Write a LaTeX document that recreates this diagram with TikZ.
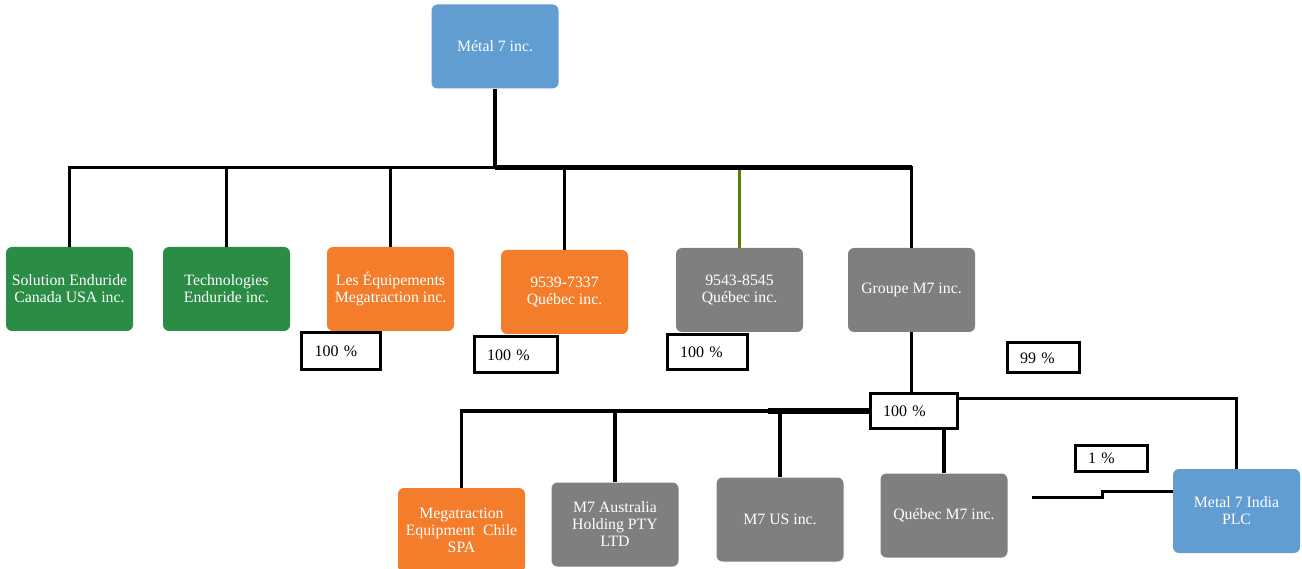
\documentclass[tikz,border=0pt]{standalone}
\usepackage{fontspec}
\setmainfont{Liberation Serif}
\usetikzlibrary{positioning,calc}
\definecolor{mblue}{HTML}{619DD1}
\definecolor{mgreen}{HTML}{2A8C45}
\definecolor{morange}{HTML}{F47D2C}
\definecolor{mgray}{HTML}{7F7F7F}
\definecolor{molive}{HTML}{5A7F00}

\begin{document}
\begin{tikzpicture}[x=1pt, y=-1pt,
    firm/.style={rectangle, rounded corners=6pt, minimum width=127pt, minimum height=84pt,
        text=white, align=center, inner sep=2pt, font=\fontsize{15.8}{17}\selectfont},
    share/.style={draw, line width=3pt, fill=white, inner xsep=13pt, inner ysep=0pt,
        text width=#1, align=left, font=\fontsize{16}{16}\selectfont},
    link/.style={line width=3.5pt, black}]
    \useasboundingbox (0,0) rectangle (1302,569);

    % Parent company
    \node[firm, fill=mblue] (metal) at (495,46.5) {Métal 7 inc.};

    % First tier
    \node[firm, fill=mgreen] (enduUSA) at (69.5,289) {Solution Enduride\\Canada USA inc.};
    \node[firm, fill=mgreen] (enduTech) at (226.5,289) {Technologies\\Enduride inc.};
    \node[firm, fill=morange] (megaQc) at (390.5,289) {Les Équipements\\Megatraction inc.};
    \node[firm, fill=morange] (qc9539) at (564.5,292) {9539-7337\\Québec inc.};
    \node[firm, fill=mgray] (qc9543) at (739.5,290) {9543-8545\\Québec inc.};
    \node[firm, fill=mgray] (groupe) at (911.5,290) {Groupe M7 inc.};

    % Second tier
    \node[firm, fill=morange] (megaChile) at (461.5,530) {Megatraction\\Equipment\ \ Chile\\SPA};
    \node[firm, fill=mgray] (m7aus) at (615,524.5) {M7 Australia\\Holding PTY\\LTD};
    \node[firm, fill=mgray] (m7us) at (780,519.5) {M7 US inc.};
    \node[firm, fill=mgray] (qcM7) at (944,515.5) {Québec M7 inc.};
    \node[firm, fill=mblue] (india) at (1236.5,511) {Metal 7 India\\PLC};

    % Ownership boxes
    \node[share=53pt, minimum height=37pt] (pMegaQc) at (341,351.5) {100 \%};
    \node[share=57pt, minimum height=36pt] (pQc9539) at (515.5,355) {100 \%};
    \node[share=54pt, minimum height=35pt] (pQc9543) at (707,352.5) {100 \%};
    \node[share=46pt, minimum height=30pt] (pGroupe) at (1043,358) {99 \%};
    \node[share=61pt, minimum height=34pt] (pM7) at (913.5,411) {100 \%};
    \node[share=46pt, minimum height=26pt] (pIndia) at (1111,458) {1 \%};

    % Top bus
    \draw[link] (metal.south) -- ++(0,79) coordinate (hub);
    \draw[line width=3pt, molive] (qc9543.north) -- (qc9543.north |- hub);
    \draw[link] (enduUSA.north) |- (groupe.north |- hub) -- (groupe.north);
    \draw[line width=5pt] (hub) -- (groupe.north |- hub);
    \foreach \n in {enduTech, megaQc, qc9539}
        \draw[link] (\n.north) -- (\n.north |- hub);

    % Groupe M7 bus
    \draw[link] (groupe.south) -- (groupe.south |- pM7.north);
    \draw[link] (pM7.west) -| (megaChile.north);
    \draw[line width=6.5pt] ([xshift=-12pt]m7us.north |- pM7.west) -- (pM7.west);
    \foreach \n in {m7aus, m7us}
        \draw[link] (\n.north) -- (\n.north |- pM7.west);
    \draw[link] (qcM7.north) -- (qcM7.north |- pM7.south);
    \draw[link, line width=3pt] ([yshift=12pt]pM7.east) -| (india.north);

    % Minority stake
    \coordinate (stub) at (1032,497);
    \draw[link, line width=3pt] (stub) -- ++(70,0) -- ++(0,-6) -- ([yshift=20pt]india.west);
\end{tikzpicture}
\end{document}
